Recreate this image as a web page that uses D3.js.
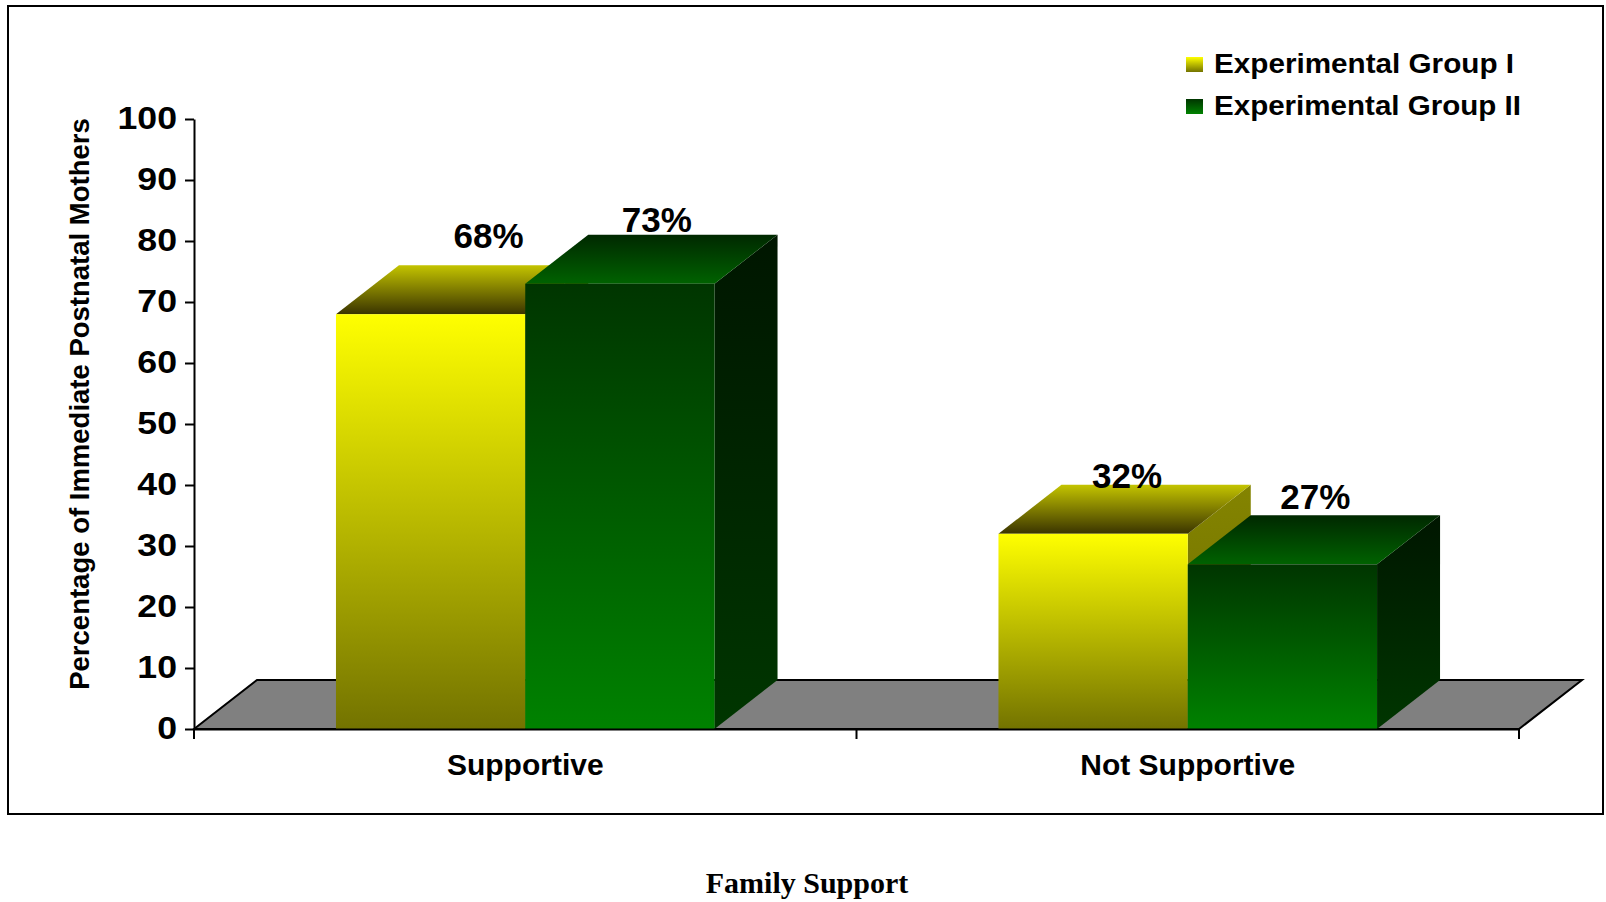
<!DOCTYPE html>
<html>
<head>
<meta charset="utf-8">
<script src="https://cdn.jsdelivr.net/npm/d3@7"></script>
<style>
  body { margin: 0; background: #ffffff; }
  svg { display: block; }
</style>
</head>
<body>
<svg id="chart" width="1606" height="902"></svg>
<script>
// ---- data ----
const categories = ["Supportive", "Not Supportive"];
const seriesNames = ["Experimental Group I", "Experimental Group II"];
const group1Values = [68, 32];
const group2Values = [73, 27];
const yTickValues = [0, 10, 20, 30, 40, 50, 60, 70, 80, 90, 100];
const yAxisTitle = "Percentage of Immediate Postnatal Mothers";
const xAxisTitle = "Family Support";

// ---- layout ----
const plot = { left: 194, right: 1519, top: 119, bottom: 729 };
const depth = { dx: 63, dy: -49 };
// small per-label nudges [category][series] for the value labels
const labelNudge = [[[23, -14], [2, 0]], [[-1, 6], [-2, -3]]];
const FONT = "'Liberation Sans', Arial, Helvetica, sans-serif";

const seriesValues = [group1Values, group2Values];

const svg = d3.select("#chart");

// outer frame
svg.append("rect")
  .attr("x", 8).attr("y", 6).attr("width", 1595).attr("height", 808)
  .attr("fill", "#ffffff").attr("stroke", "#000").attr("stroke-width", 2);

// ---- scales ----
const y = d3.scaleLinear().domain([0, 100]).range([plot.bottom, plot.top]);
const x0 = d3.scaleBand().domain(categories).range([plot.left, plot.right])
  .paddingInner(0).paddingOuter(0);
const x1 = d3.scaleBand().domain(seriesNames).range([0, x0.bandwidth()])
  .paddingInner(0).paddingOuter(0.75);

// ---- gradients ----
const faceStyles = [
  { front: ["#ffff00", "#737300"], top: ["#c4c400", "#3a3400"], side: ["#848400", "#6c6c00"] },
  { front: ["#003500", "#008200"], top: ["#002800", "#006200"], side: ["#001600", "#003600"] }
];
const defs = svg.append("defs");
faceStyles.forEach((st, i) => {
  ["front", "top", "side"].forEach(face => {
    const g = defs.append("linearGradient")
      .attr("id", `s${i}-${face}`)
      .attr("x1", 0).attr("y1", 0).attr("x2", 0).attr("y2", 1);
    g.append("stop").attr("offset", "0%").attr("stop-color", st[face][0]);
    g.append("stop").attr("offset", "100%").attr("stop-color", st[face][1]);
  });
});

// ---- floor ----
const y0 = y(0);
svg.append("polygon")
  .attr("points", [
    [plot.left, y0],
    [plot.left + depth.dx, y0 + depth.dy],
    [plot.right + depth.dx, y0 + depth.dy],
    [plot.right, y0]
  ].map(p => p.join(",")).join(" "))
  .attr("fill", "#808080")
  .attr("stroke", "#000").attr("stroke-width", 2).attr("stroke-linejoin", "miter");

// ---- bars ----
const barData = [];
categories.forEach((c, ci) => {
  seriesNames.forEach((s, si) => {
    barData.push({ c, ci, s, si, v: seriesValues[si][ci] });
  });
});

const bars = svg.append("g").attr("class", "bars");
const w = x1.bandwidth();
barData.forEach(d => {
  const x = x0(d.c) + x1(d.s);
  const yt = y(d.v);
  const g = bars.append("g");
  // side face
  g.append("polygon")
    .attr("points", [
      [x + w, yt], [x + w + depth.dx, yt + depth.dy],
      [x + w + depth.dx, y0 + depth.dy], [x + w, y0]
    ].map(p => p.join(",")).join(" "))
    .attr("fill", `url(#s${d.si}-side)`);
  // top face
  g.append("polygon")
    .attr("points", [
      [x, yt], [x + depth.dx, yt + depth.dy],
      [x + w + depth.dx, yt + depth.dy], [x + w, yt]
    ].map(p => p.join(",")).join(" "))
    .attr("fill", `url(#s${d.si}-top)`);
  // front face
  g.append("rect")
    .attr("x", x).attr("y", yt).attr("width", w).attr("height", y0 - yt)
    .attr("fill", `url(#s${d.si}-front)`);
});

// ---- value labels ----
svg.append("g").selectAll("text")
  .data(barData)
  .join("text")
  .attr("x", d => x0(d.c) + x1(d.s) + w / 2 + 35 + labelNudge[d.ci][d.si][0])
  .attr("y", d => y(d.v) + depth.dy - 3 + labelNudge[d.ci][d.si][1])
  .attr("text-anchor", "middle")
  .attr("font-family", FONT).attr("font-weight", "bold").attr("font-size", 35)
  .attr("fill", "#000")
  .text(d => d.v + "%");

// ---- y axis ----
const tickScaleX = 1.15;
const yAxis = svg.append("g")
  .attr("transform", `translate(${plot.left},0)`)
  .call(d3.axisLeft(y).tickValues(yTickValues).tickSize(9).tickSizeOuter(0).tickPadding(8));
yAxis.select(".domain").attr("stroke", "#000").attr("stroke-width", 2);
yAxis.selectAll(".tick line").attr("stroke", "#000").attr("stroke-width", 2);
yAxis.selectAll(".tick text")
  .attr("x", -17 / tickScaleX)
  .attr("transform", `scale(${tickScaleX},1)`)
  .attr("font-family", FONT).attr("font-weight", "bold").attr("font-size", 31)
  .attr("fill", "#000");

// ---- x axis ----
const xAxis = svg.append("g")
  .attr("transform", `translate(0,${y0})`)
  .call(d3.axisBottom(x0).tickSize(0).tickSizeOuter(0));
xAxis.select(".domain").attr("stroke", "#000").attr("stroke-width", 2);
xAxis.selectAll(".tick text")
  .attr("y", 46).attr("dy", 0)
  .attr("font-family", FONT).attr("font-weight", "bold").attr("font-size", 30)
  .attr("fill", "#000");
// category boundary ticks
const boundaries = d3.range(categories.length + 1).map(i => x0.range()[0] + i * x0.step());
xAxis.selectAll(".boundary")
  .data(boundaries)
  .join("line")
  .attr("class", "boundary")
  .attr("x1", d => d).attr("x2", d => d)
  .attr("y1", 0).attr("y2", 10)
  .attr("stroke", "#000").attr("stroke-width", 2);

// ---- axis titles ----
svg.append("text")
  .attr("transform", "translate(89,404) rotate(-90)")
  .attr("text-anchor", "middle")
  .attr("font-family", FONT).attr("font-weight", "bold").attr("font-size", 27.5)
  .attr("fill", "#000")
  .text(yAxisTitle);

svg.append("text")
  .attr("x", 807).attr("y", 893)
  .attr("text-anchor", "middle")
  .attr("font-family", "'Liberation Serif', 'Times New Roman', serif")
  .attr("font-weight", "bold").attr("font-size", 30)
  .attr("fill", "#000")
  .text(xAxisTitle);

// ---- legend ----
const legend = svg.append("g").attr("transform", "translate(1186,57)");
const legendLengths = [300, 307];
seriesNames.forEach((name, i) => {
  const row = legend.append("g").attr("transform", `translate(0,${i * 42})`);
  row.append("rect")
    .attr("x", 0).attr("y", 0).attr("width", 17).attr("height", 15)
    .attr("fill", `url(#s${i}-front)`);
  row.append("text")
    .attr("x", 28).attr("y", 16)
    .attr("font-family", FONT).attr("font-weight", "bold").attr("font-size", 27)
    .attr("textLength", legendLengths[i]).attr("lengthAdjust", "spacingAndGlyphs")
    .attr("fill", "#000")
    .text(name);
});
</script>
</body>
</html>
